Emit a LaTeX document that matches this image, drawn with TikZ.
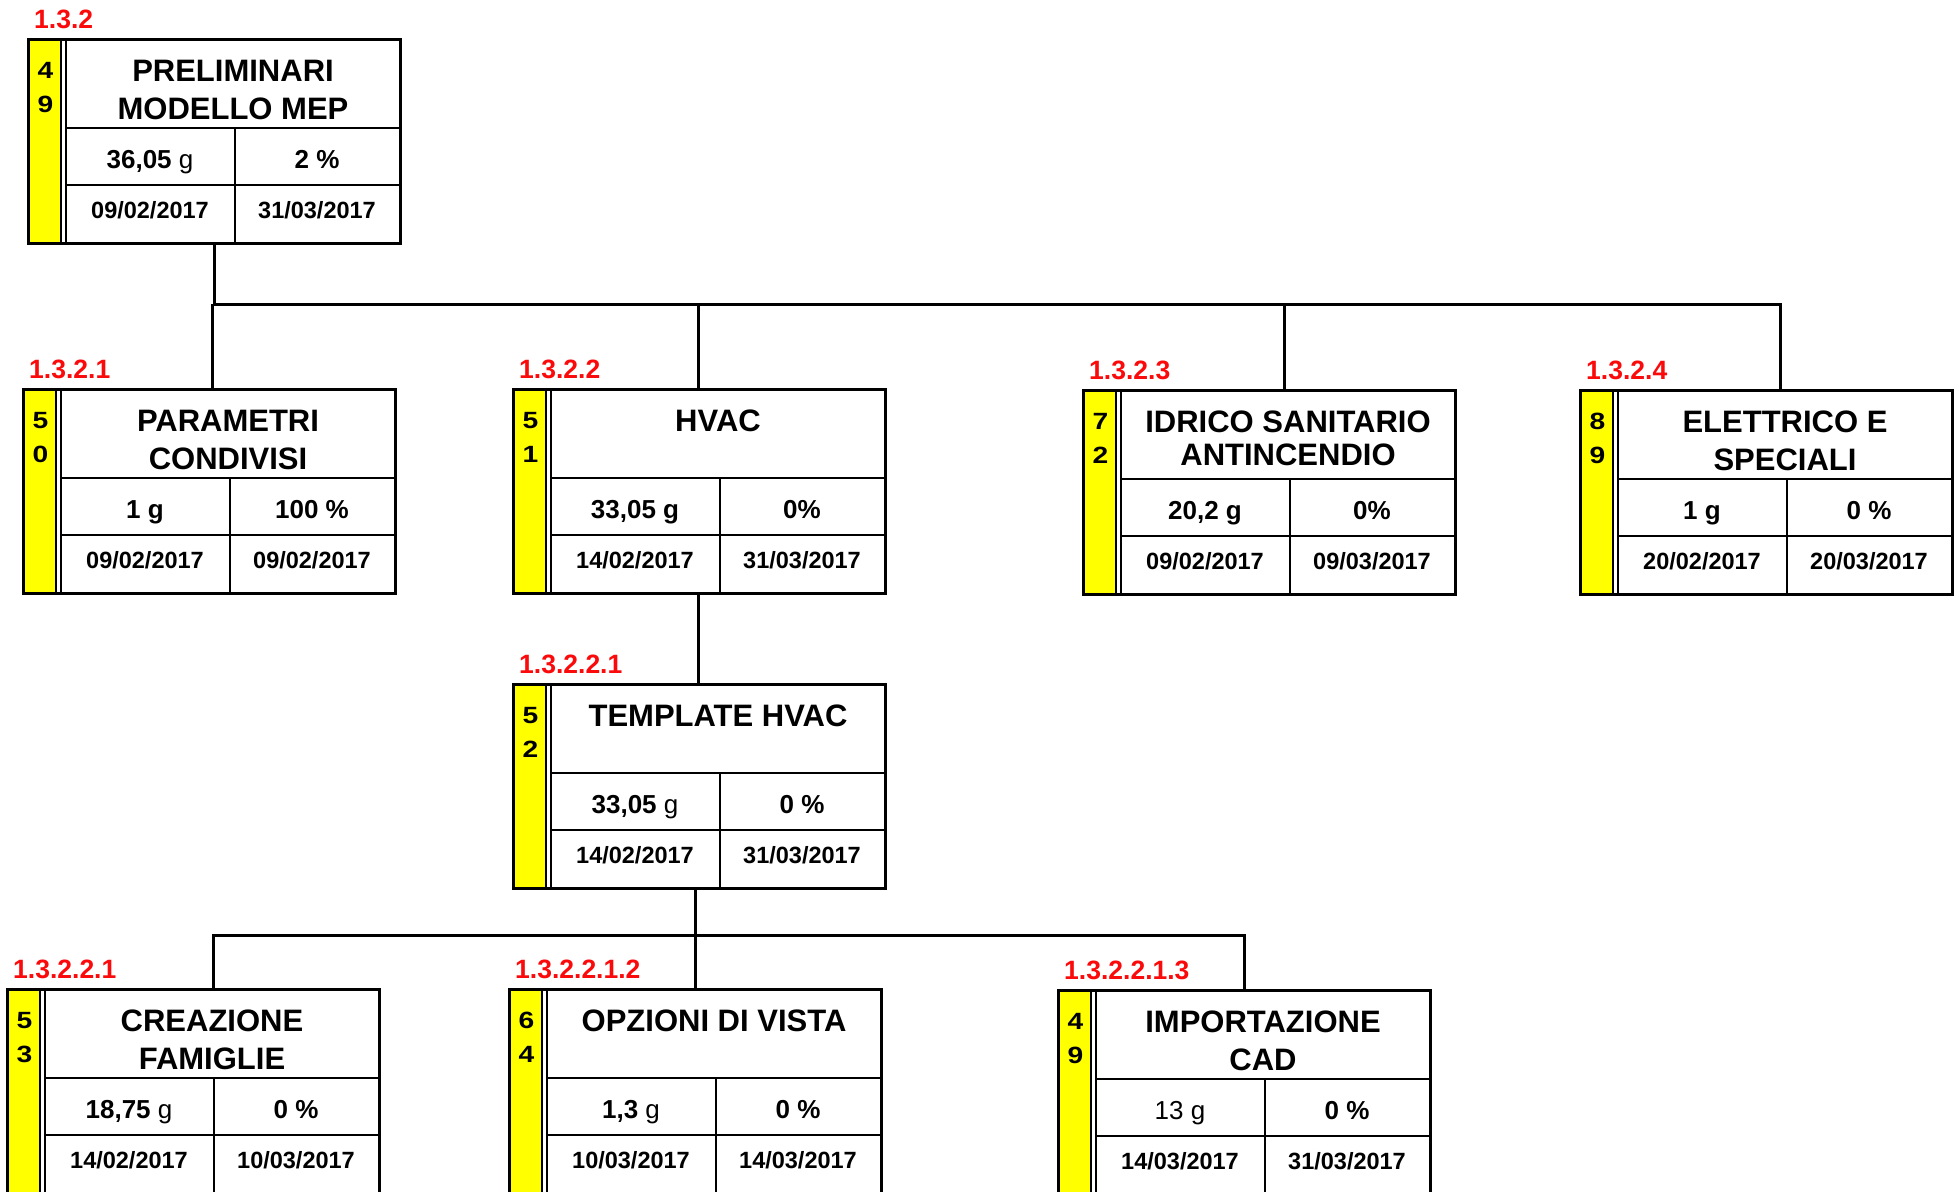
\documentclass[tikz,border=0pt]{standalone}
\usepackage{fontspec}
\setmainfont{Liberation Sans}
\definecolor{lblred}{RGB}{250,10,10}
\definecolor{wbsyellow}{RGB}{255,255,0}
\tikzset{
  boxframe/.style={inner sep=0pt, minimum width=372pt, minimum height=204pt, anchor=north west},
  inner/.style={line width=2pt},
  conn/.style={line width=3pt, black},
  digit/.style={inner sep=0pt, anchor=base, font=\fontsize{23.5}{26}\selectfont\bfseries},
  titletext/.style={inner sep=0pt, anchor=north, align=center},
  midtext/.style={inner sep=0pt, anchor=base, font=\fontsize{26}{30}\selectfont\bfseries},
  datetext/.style={inner sep=0pt, anchor=base, font=\fontsize{23.5}{28}\selectfont\bfseries},
  codelabel/.style={inner sep=0pt, anchor=base west, text=lblred, font=\fontsize{26.5}{30}\selectfont\bfseries}
}
% name, x, y, digit1, digit2, baselineskip, title
\newcommand\wbsbox[7]{%
  \node[boxframe] (#1) at (#2,#3) {};
  \begin{scope}[shift={(#2,#3)}]
    \fill[wbsyellow] (0,0) rectangle (33,204);
    \draw[inner] (38,89) -- (372,89);
    \draw[inner] (38,146) -- (372,146);
    \draw[inner] (207,89) -- (207,204);
    \draw[line width=2.7pt] (33,0) -- (33,204);
    \draw[line width=1.4pt] (38,0) -- (38,204);
    \draw[line width=3pt] (0,0) rectangle (372,204);
    \node[digit] at (17.5,39) {\scalebox{1.2}[1]{#4}};
    \node[digit] at (17.5,73) {\scalebox{1.2}[1]{#5}};
    \node[titletext, font=\fontsize{31}{#6}\selectfont\bfseries] at (205,20.5) {#7};
  \end{scope}}
% name, code
\newcommand\wbscode[2]{%
  \node[codelabel] at ([xshift=6pt,yshift=11pt]#1.north west) {#2};}
% name, x, y, dur, pct, start, end
\newcommand\wbsdata[7]{%
  \begin{scope}[shift={(#2,#3)}]
    \node[midtext] at (122,129) {#4};
    \node[midtext] at (289,129) {#5};
    \node[datetext] at (122,179) {#6};
    \node[datetext] at (289,179) {#7};
  \end{scope}}
\begin{document}
\begin{tikzpicture}[x=1pt,y=-1pt]
\clip (0,0) rectangle (1959,1191);
\fill[white] (0,0) rectangle (1959,1191);

\wbsbox{p1}{28}{39}{4}{9}{38}{PRELIMINARI\\MODELLO MEP}
\wbscode{p1}{1.3.2}
\wbsdata{p1}{28}{39}{36,05 {\mdseries g}}{2 \%}{09/02/2017}{31/03/2017}

\wbsbox{p2}{23}{389}{5}{0}{38}{PARAMETRI\\CONDIVISI}
\wbscode{p2}{1.3.2.1}
\wbsdata{p2}{23}{389}{1 g}{100 \%}{09/02/2017}{09/02/2017}

\wbsbox{p3}{513}{389}{5}{1}{38}{HVAC}
\wbscode{p3}{1.3.2.2}
\wbsdata{p3}{513}{389}{33,05 g}{0\%}{14/02/2017}{31/03/2017}

\wbsbox{p4}{1083}{390}{7}{2}{33}{IDRICO SANITARIO\\ANTINCENDIO}
\wbscode{p4}{1.3.2.3}
\wbsdata{p4}{1083}{390}{20,2 g}{0\%}{09/02/2017}{09/03/2017}

\wbsbox{p5}{1580}{390}{8}{9}{38}{ELETTRICO E\\SPECIALI}
\wbscode{p5}{1.3.2.4}
\wbsdata{p5}{1580}{390}{1 g}{0 \%}{20/02/2017}{20/03/2017}

\wbsbox{p6}{513}{684}{5}{2}{38}{TEMPLATE HVAC}
\wbscode{p6}{1.3.2.2.1}
\wbsdata{p6}{513}{684}{33,05 {\mdseries g}}{0 \%}{14/02/2017}{31/03/2017}

\wbsbox{p7}{7}{989}{5}{3}{38}{CREAZIONE\\FAMIGLIE}
\wbscode{p7}{1.3.2.2.1}
\wbsdata{p7}{7}{989}{18,75 {\mdseries g}}{0 \%}{14/02/2017}{10/03/2017}

\wbsbox{p8}{509}{989}{6}{4}{38}{OPZIONI DI VISTA}
\wbscode{p8}{1.3.2.2.1.2}
\wbsdata{p8}{509}{989}{1,3 {\mdseries g}}{0 \%}{10/03/2017}{14/03/2017}

\wbsbox{p9}{1058}{990}{4}{9}{38}{IMPORTAZIONE\\CAD}
\wbscode{p9}{1.3.2.2.1.3}
\wbsdata{p9}{1058}{990}{{\mdseries 13 g}}{0 \%}{14/03/2017}{31/03/2017}

% connectors, level 1
\coordinate (bus1) at (0,304);
\coordinate (t2) at ([xshift=3pt]p2.north);
\coordinate (t3) at ([xshift=-1pt]p3.north);
\coordinate (t4) at ([xshift=15pt]p4.north);
\coordinate (t5) at ([xshift=14pt]p5.north);
\draw[conn] (p1.south) |- (t5 |- bus1) -- (t5);
\draw[conn] (t2) -- (t2 |- bus1);
\draw[conn] (t3) -- (t3 |- bus1);
\draw[conn] (t4) -- (t4 |- bus1);

% HVAC -> TEMPLATE
\coordinate (s3) at ([xshift=-1pt]p3.south);
\coordinate (t6) at ([xshift=-1pt]p6.north);
\draw[conn] (s3) -- (t6);

% level 3
\coordinate (bus2) at (0,935);
\coordinate (s6) at ([xshift=-4pt]p6.south);
\coordinate (t7) at ([xshift=20pt]p7.north);
\coordinate (t8) at (p8.north);
\coordinate (t9) at (p9.north);
\draw[conn] (s6) -- (s6 |- bus2);
\draw[conn] (t7) |- (t9 |- bus2) -- (t9);
\draw[conn] (t8) -- (t8 |- bus2);
\end{tikzpicture}
\end{document}
